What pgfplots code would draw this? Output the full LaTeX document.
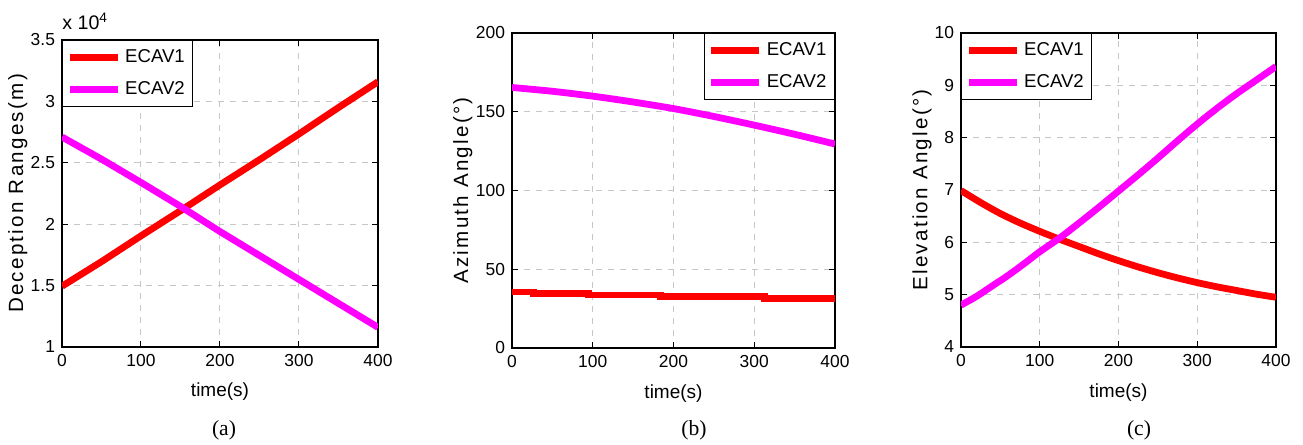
\documentclass[border=0pt]{standalone}
\usepackage{fontspec}
\setmainfont{Liberation Sans}
\newfontfamily\labfont[LetterSpace=11]{Liberation Sans}
\newfontfamily\capfont{Liberation Serif}
\usepackage{pgfplots}
\pgfplotsset{compat=1.18}
\definecolor{ecavred}{RGB}{255,0,0}
\definecolor{ecavmag}{RGB}{255,0,255}

\pgfplotsset{
  panel/.style={
    scale only axis,
    anchor=south west,
    clip mode=individual,
    xmin=0, xmax=400,
    xtick={0,100,200,300,400},
    tick pos=both,
    tick align=inside,
    major tick length=3pt,
    grid=major,
    major grid style={dashed, black!22, line width=0.5pt},
    axis line style={line width=0.6pt},
    every tick/.style={black, line width=0.5pt},
    tick label style={font=\fontsize{8.7}{9}\selectfont},
    /pgf/number format/assume math mode=true,
    xlabel={time(s)},
    xlabel style={font=\fontsize{9.5}{10}\selectfont, at={(axis description cs:0.5,-0.145)}, anchor=center},
    ylabel style={font=\labfont\fontsize{10.3}{11}\selectfont, anchor=center},
    legend style={draw=black, line width=0.6pt, font=\fontsize{9.3}{11}\selectfont,
      inner xsep=2pt, inner ysep=2.5pt, row sep=4pt, cells={anchor=west}},
    legend image code/.code={\draw[#1, line width=3.3pt] (0pt,0pt) -- (24pt,0pt);},
  },
  ser1/.style={color=ecavred, line width=3.4pt},
  ser2/.style={color=ecavmag, line width=3.4pt},
}

\begin{document}
\begin{tikzpicture}
\useasboundingbox (0,0) rectangle (651.5pt,222.5pt);

% (a) deception ranges
\begin{axis}[panel,
  at={(31pt,49pt)}, width=158pt, height=153.5pt,
  ymin=10000, ymax=35000,
  ytick={10000,15000,20000,25000,30000,35000},
  yticklabels={1,1.5,2,2.5,3,3.5},
  scaled y ticks=false,
  ylabel={Deception Ranges(m)},
  ylabel style={at={(axis description cs:-0.14,0.5)}},
  legend style={at={(0,1)}, anchor=north west},
]
\addplot[ser1] coordinates {
  (0,14950) (50,16950) (100,19050) (150,21100) (200,23200)
  (250,25250) (300,27350) (350,29500) (400,31600)
};
\addlegendentry{ECAV1}
\addplot[ser2] coordinates {
  (0,27100) (50,25300) (100,23400) (150,21450) (200,19400)
  (250,17450) (300,15500) (350,13550) (400,11600)
};
\addlegendentry{ECAV2}
\node[anchor=south west, inner sep=0pt, yshift=5pt, font=\fontsize{9.8}{10}\selectfont]
  at (rel axis cs:0,1) {x 10\textsuperscript{4}};
\end{axis}

% (b) azimuth angle
\begin{axis}[panel,
  at={(256pt,48.5pt)}, width=161.5pt, height=157.5pt,
  ymin=0, ymax=200,
  ytick={0,50,100,150,200},
  ylabel={Azimuth Angle(°)},
  ylabel style={at={(axis description cs:-0.152,0.5)}},
  legend style={at={(1,1)}, anchor=north east},
]
\addplot[ser1, const plot] coordinates {
  (0,35.5) (27,34.4) (95,33.6) (184,32.7) (313,31.5) (400,31.5)
};
\addlegendentry{ECAV1}
\addplot[ser2, smooth] coordinates {
  (0,165.4) (50,163.0) (100,159.9) (150,156.2) (200,152.0)
  (250,147.0) (300,141.5) (350,135.7) (400,129.5)
};
\addlegendentry{ECAV2}
\end{axis}

% (c) elevation angle
\begin{axis}[panel,
  at={(480.5pt,49pt)}, width=157.5pt, height=157pt,
  ymin=4, ymax=10,
  ytick={4,5,6,7,8,9,10},
  ylabel={Elevation Angle(°)},
  ylabel style={at={(axis description cs:-0.124,0.5)}},
  legend style={at={(0,1)}, anchor=north west},
]
\addplot[ser1, smooth] coordinates {
  (0,6.99) (25,6.76) (50,6.55) (75,6.37) (100,6.21) (125,6.06)
  (150,5.92) (175,5.78) (200,5.65) (225,5.53) (250,5.42) (275,5.32)
  (300,5.23) (325,5.15) (350,5.08) (375,5.01) (400,4.95)
};
\addlegendentry{ECAV1}
\addplot[ser2, smooth] coordinates {
  (0,4.80) (20,4.97) (40,5.17) (60,5.37) (80,5.59) (100,5.82)
  (125,6.08) (150,6.37) (175,6.67) (200,6.98) (225,7.29) (250,7.61)
  (275,7.94) (300,8.26) (325,8.56) (350,8.84) (375,9.10) (400,9.36)
};
\addlegendentry{ECAV2}
\end{axis}

\node[font=\capfont\fontsize{10.8}{12}\selectfont] at (112pt,7.5pt) {(a)};
\node[font=\capfont\fontsize{10.8}{12}\selectfont] at (347pt,7.5pt) {(b)};
\node[font=\capfont\fontsize{10.8}{12}\selectfont] at (569.5pt,7.5pt) {(c)};
\end{tikzpicture}
\end{document}
